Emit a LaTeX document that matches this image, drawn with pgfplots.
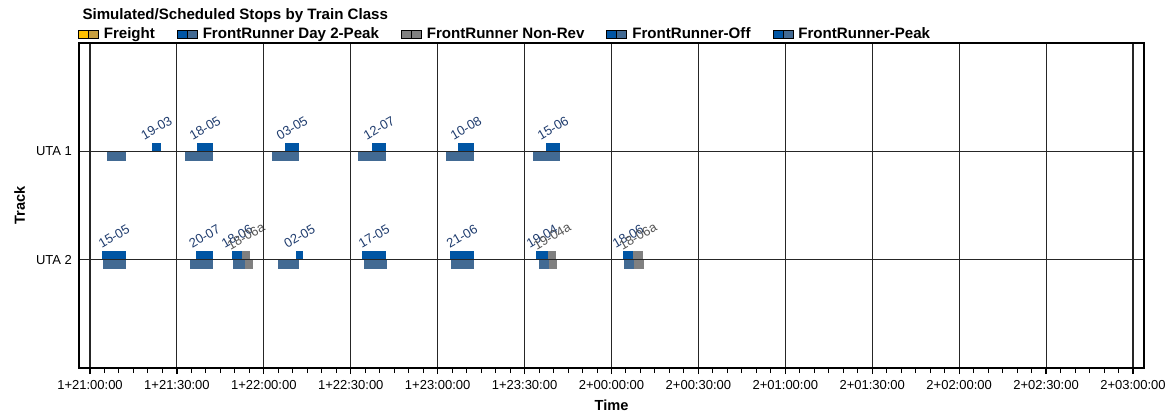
\documentclass[border=0pt]{standalone}
\usepackage{pgfplots}
\pgfplotsset{compat=1.18}
\usepackage{fontspec}
\setmainfont{Liberation Sans}
\definecolor{schedblue}{HTML}{0055A4}
\definecolor{simblue}{HTML}{426A93}
\definecolor{nrgray}{HTML}{808080}
\definecolor{frgold}{HTML}{FFC000}
\definecolor{frgold2}{HTML}{C8A040}
\definecolor{lblblue}{HTML}{1F3C6E}
\definecolor{lblgray}{HTML}{555555}
\newcommand\fs{\fontsize{13bp}{15bp}\selectfont}
\newcommand\fb{\fontsize{15.1bp}{17bp}\selectfont\bfseries}
\newcommand\fl{\fontsize{14.6bp}{17bp}\selectfont\bfseries}
% one bar: start, end, ylow, yhigh, colour
\newcommand\rect[5]{\addplot[fill=#5,draw=none,forget plot] coordinates {(#1,#3) (#2,#3) (#2,#4) (#1,#4)};}
\newcommand\lbl[4]{\node[rotate=30,text=#4,font=\fs,inner sep=0pt] at (axis cs:#1,#2) {#3};}
\begin{document}
\begin{tikzpicture}
\begin{axis}[
  at={(0,0)}, anchor=south west,
  scale only axis, width=1065bp, height=325bp,
  xmin=-3.8, xmax=363.8, ymin=-1, ymax=2,
  axis on top,
  axis line style={black, line width=1.4bp},
  xtick={0,30,...,360},
  xticklabels={1+21:00:00,1+21:30:00,1+22:00:00,1+22:30:00,1+23:00:00,1+23:30:00,2+00:00:00,2+00:30:00,2+01:00:00,2+01:30:00,2+02:00:00,2+02:30:00,2+03:00:00},
  minor x tick num=5,
  xtick pos=bottom, ytick pos=left,
  tick align=outside,
  major tick length=6bp, minor tick length=5bp,
  every tick/.style={black, line width=1.2bp},
  minor tick style={black, line width=1bp},
  ytick={0,1}, yticklabels={UTA 2,UTA 1},
  ytick style={draw=none},
  xmajorgrids, ymajorgrids,
  major grid style={black!85, line width=1.1bp},
  ticklabel style={font=\fs},
  xticklabel style={yshift=-2.5bp},
  yticklabel style={xshift=2.5bp},
  xlabel={Time}, ylabel={Track},
  xlabel style={font=\fl, at={(axis description cs:0.5,0)}, anchor=base, yshift=-42bp},
  ylabel style={font=\fl, at={(axis description cs:0,0.5)}, anchor=base, yshift=54bp},
  title={Simulated/Scheduled Stops by Train Class},
  title style={font=\fb, at={(axis description cs:0,1)}, anchor=base west, yshift=17.7bp},
  legend columns=5,
  legend style={draw=none, fill=none, inner sep=0pt, outer sep=0pt,
    at={(axis description cs:0,1)}, anchor=west, xshift=-1bp, yshift=8.7bp,
    font=\fb, nodes={inner sep=0pt, text height=10.9bp, text depth=3.2bp},
    /tikz/every odd column/.append style={column sep=5bp},
    /tikz/every even column/.append style={column sep=22bp}},
]
\addlegendimage{legend image code/.code={\draw[black,line width=0.8bp,fill=frgold] (0bp,-4bp) rectangle (10bp,4bp); \draw[black,line width=0.8bp,fill=frgold2] (10bp,-4bp) rectangle (20bp,4bp);}}
\addlegendentry{Freight}
\addlegendimage{legend image code/.code={\draw[black,line width=0.8bp,fill=schedblue] (0bp,-4bp) rectangle (10bp,4bp); \draw[black,line width=0.8bp,fill=simblue] (10bp,-4bp) rectangle (20bp,4bp);}}
\addlegendentry{FrontRunner Day 2-Peak}
\addlegendimage{legend image code/.code={\draw[black,line width=0.8bp,fill=nrgray] (0bp,-4bp) rectangle (10bp,4bp); \draw[black,line width=0.8bp,fill=nrgray] (10bp,-4bp) rectangle (20bp,4bp);}}
\addlegendentry{FrontRunner Non-Rev}
\addlegendimage{legend image code/.code={\draw[black,line width=0.8bp,fill=schedblue] (0bp,-4bp) rectangle (10bp,4bp); \draw[black,line width=0.8bp,fill=simblue] (10bp,-4bp) rectangle (20bp,4bp);}}
\addlegendentry{FrontRunner-Off}
\addlegendimage{legend image code/.code={\draw[black,line width=0.8bp,fill=schedblue] (0bp,-4bp) rectangle (10bp,4bp); \draw[black,line width=0.8bp,fill=simblue] (10bp,-4bp) rectangle (20bp,4bp);}}
\addlegendentry{FrontRunner-Peak}
% ---- UTA 1 (y = 1) ----
\rect{21.4}{24.5}{1}{1.08}{schedblue} \rect{5.9}{12.4}{0.915}{1}{simblue}
\rect{36.9}{42.5}{1}{1.08}{schedblue} \rect{32.8}{42.5}{0.915}{1}{simblue}
\rect{67.3}{72.1}{1}{1.08}{schedblue} \rect{62.8}{72.1}{0.915}{1}{simblue}
\rect{97.3}{102.2}{1}{1.08}{schedblue} \rect{92.5}{102.2}{0.915}{1}{simblue}
\rect{127.0}{132.5}{1}{1.08}{schedblue} \rect{122.9}{132.5}{0.915}{1}{simblue}
\rect{157.4}{162.2}{1}{1.08}{schedblue} \rect{152.9}{162.2}{0.915}{1}{simblue}
% ---- UTA 2 (y = 0) ----
\rect{4.1}{12.4}{0}{0.08}{schedblue} \rect{4.5}{12.4}{-0.085}{0}{simblue}
\rect{36.6}{42.5}{0}{0.08}{schedblue} \rect{34.5}{42.5}{-0.085}{0}{simblue}
\rect{49.0}{52.5}{0}{0.08}{schedblue} \rect{49.4}{53.5}{-0.085}{0}{simblue}
\rect{52.5}{55.2}{0}{0.08}{nrgray} \rect{53.5}{56.3}{-0.085}{0}{nrgray}
\rect{71.1}{73.5}{0}{0.08}{schedblue} \rect{64.9}{72.1}{-0.085}{0}{simblue}
\rect{93.9}{102.2}{0}{0.08}{schedblue} \rect{94.6}{102.5}{-0.085}{0}{simblue}
\rect{124.3}{132.5}{0}{0.08}{schedblue} \rect{124.6}{132.5}{-0.085}{0}{simblue}
\rect{154.0}{158.1}{0}{0.08}{schedblue} \rect{155.0}{158.4}{-0.085}{0}{simblue}
\rect{158.1}{160.9}{0}{0.08}{nrgray} \rect{158.4}{161.2}{-0.085}{0}{nrgray}
\rect{184.0}{187.4}{0}{0.08}{schedblue} \rect{184.3}{187.8}{-0.085}{0}{simblue}
\rect{187.4}{190.9}{0}{0.08}{nrgray} \rect{187.8}{191.2}{-0.085}{0}{nrgray}
% ---- labels ----
\lbl{22.95}{1.215}{19-03}{lblblue}
\lbl{39.7}{1.215}{18-05}{lblblue}
\lbl{69.7}{1.215}{03-05}{lblblue}
\lbl{99.75}{1.215}{12-07}{lblblue}
\lbl{129.75}{1.215}{10-08}{lblblue}
\lbl{159.8}{1.215}{15-06}{lblblue}
\lbl{8.25}{0.215}{15-05}{lblblue}
\lbl{39.55}{0.215}{20-07}{lblblue}
\lbl{50.75}{0.215}{18-06}{lblblue}
\lbl{53.85}{0.215}{18-06a}{lblgray}
\lbl{72.3}{0.215}{02-05}{lblblue}
\lbl{98.05}{0.215}{17-05}{lblblue}
\lbl{128.4}{0.215}{21-06}{lblblue}
\lbl{156.05}{0.215}{19-04}{lblblue}
\lbl{159.5}{0.215}{19-04a}{lblgray}
\lbl{185.7}{0.215}{18-06}{lblblue}
\lbl{189.15}{0.215}{18-06a}{lblgray}
\end{axis}
\pgfresetboundingbox
\path[use as bounding box] (-79bp,-49bp) rectangle (1092bp,368bp);
\end{tikzpicture}
\end{document}
